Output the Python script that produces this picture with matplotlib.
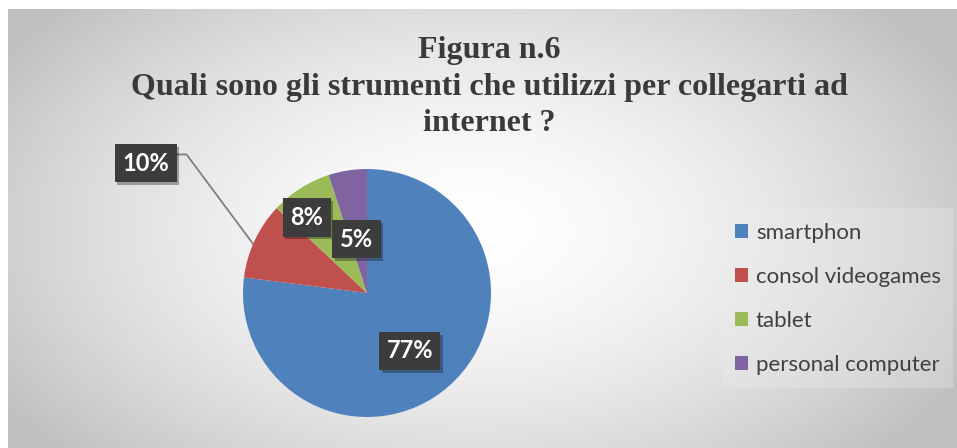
import numpy as np
import matplotlib
matplotlib.use("Agg")
import matplotlib.pyplot as plt
import matplotlib.patheffects as pe

# ---- data ----
categories = ["smartphon", "consol videogames", "tablet", "personal computer"]
values = [77, 10, 8, 5]
pct_labels = ["77%", "10%", "8%", "5%"]
colors = ["#4f81bd", "#c0504d", "#9bbb59", "#8064a2"]
title = "Figura n.6\nQuali sono gli strumenti che utilizzi per collegarti ad\ninternet ?"

W, H = 957, 448
fig = plt.figure(figsize=(W / 100, H / 100), dpi=100)
fig.patch.set_facecolor("white")

# background radial gradient (chart area)
bg = fig.add_axes([0, 0, 1, 1])
bg.set_axis_off()
yy, xx = np.mgrid[0:H, 0:W]
cx, cy = 470, 230
d = np.sqrt(((xx - cx) / 560.0) ** 2 + ((yy - cy) / 330.0) ** 2)
d = np.clip(d, 0, 1)
val = 1.0 - (1.0 - 0.75) * d ** 1.6
img = np.dstack([val, val, val])
mask = (xx < 8) | (yy < 9)
img[mask] = 1.0
bg.imshow(img, extent=[0, W, H, 0], aspect="auto", interpolation="bilinear")
bg.set_xlim(0, W)
bg.set_ylim(H, 0)

# legend background
bg.add_patch(plt.Rectangle((722, 208), 231, 180, facecolor="#eeeeee", alpha=0.3,
                           edgecolor="none"))

# title
bg.text(489, 87, title, ha="center", va="center", fontsize=23, fontweight="bold",
        family="Liberation Serif", color="#3a3a3a", linespacing=1.32)

# pie axes
pcx, pcy, R = 367, 293, 124
ax = fig.add_axes([(pcx - R) / W, (H - pcy - R) / H, 2 * R / W, 2 * R / H])
ax.set_axis_off()
wedges, _ = ax.pie(values, colors=colors, startangle=90, counterclock=False,
                   radius=1, wedgeprops=dict(linewidth=0))
ax.set_xlim(-1, 1)
ax.set_ylim(-1, 1)
ax.set_aspect("auto")

# label placement: (radius factor, angle offset deg)
place = [(0.58, -5.0), (2.07, -5.2), (0.78, 6.3), (0.44, 2.0)]
for w, lab, (rf, doff) in zip(wedges, pct_labels, place):
    mid = 0.5 * (w.theta1 + w.theta2)
    a = np.deg2rad(mid + doff)
    x, y = rf * np.cos(a), rf * np.sin(a)
    if rf > 1.2:
        # leader line
        edge = np.deg2rad(mid + 1.9)
        ex, ey = np.cos(edge), np.sin(edge)
        kx = x + 0.33
        ax.plot([x + 0.24, kx, ex], [y + 0.07, y + 0.07, ey], color="#7f7f7f",
                lw=1.3, clip_on=False, zorder=3)
    t = ax.text(x, y, lab, ha="center", va="center", fontsize=17, fontweight="bold",
                family="Lato", color="white", zorder=5, clip_on=False,
                bbox=dict(boxstyle="square,pad=0.32", facecolor="#3c3c3c",
                          edgecolor="none"))
    t.get_bbox_patch().set_path_effects([pe.SimplePatchShadow(offset=(2, -2), alpha=0.35),
                                         pe.Normal()])

# legend
handles = [plt.Rectangle((0, 0), 1, 1, facecolor=c, edgecolor="none") for c in colors]
leg = fig.legend(handles, categories, loc="upper left",
                 bbox_to_anchor=(726 / W, 1 - 214 / H), frameon=False,
                 prop=dict(family="Lato", size=16), labelcolor="#404040",
                 handlelength=0.6, handleheight=0.6, handletextpad=0.35,
                 labelspacing=1.08, borderaxespad=0)

fig.savefig("out.png", dpi=100)
